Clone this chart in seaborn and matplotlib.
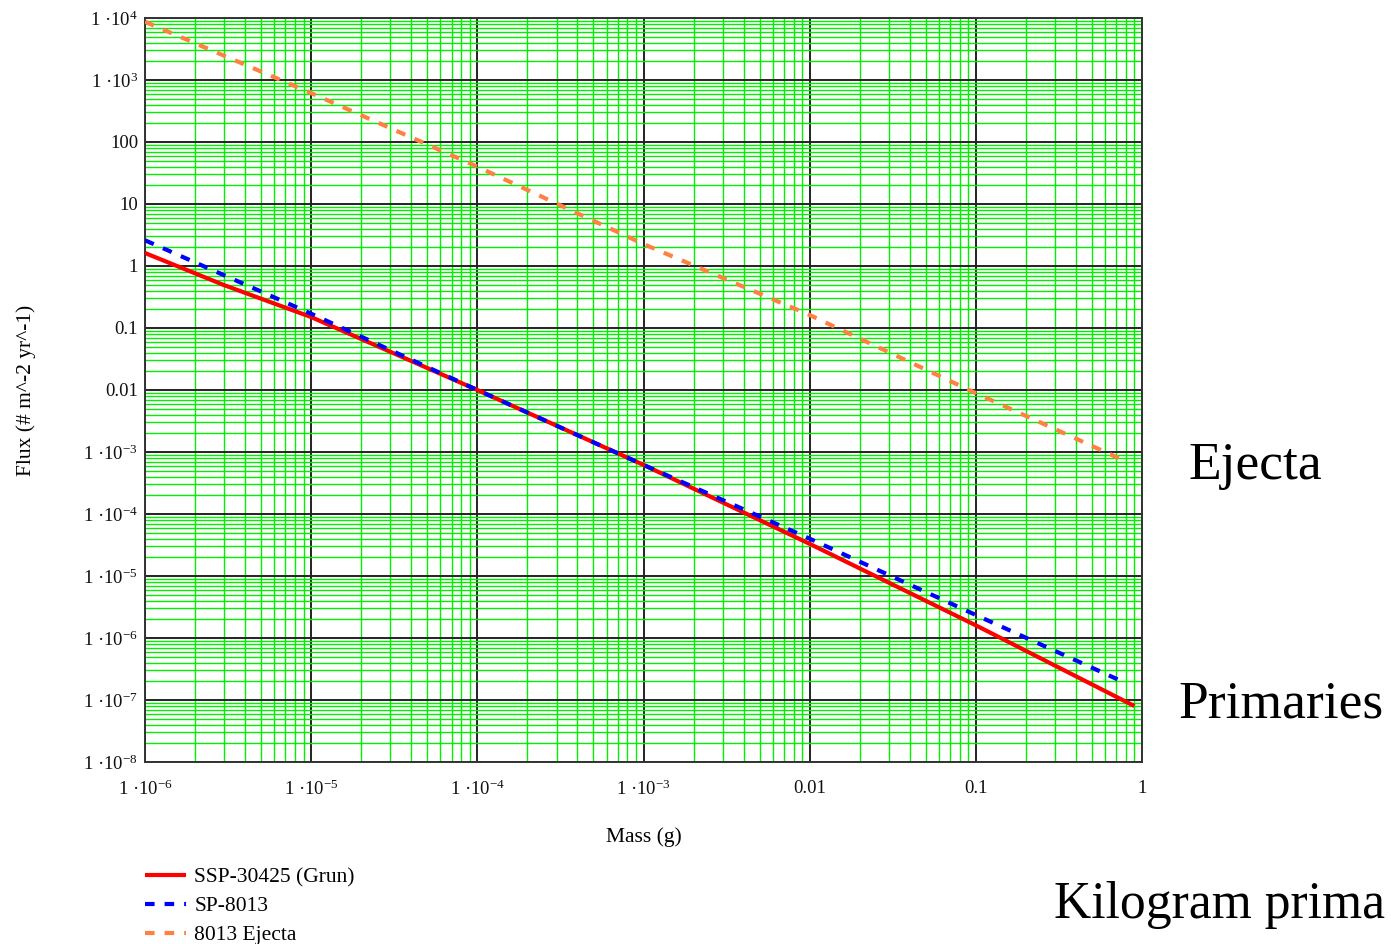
import numpy as np
import pandas as pd
import matplotlib
matplotlib.use("Agg")
import matplotlib.pyplot as plt
from matplotlib.ticker import LogLocator, FixedLocator, FixedFormatter, NullFormatter
import seaborn as sns

# Flux vs. particle mass (log-log)
mass_grun = [1e-6, 3e-6, 1e-5, 1e-4, 1e-3, 1e-2, 1e-1, 0.9]
flux_grun = [1.62, 0.49, 0.15, 0.010, 6.2e-4, 3.3e-5, 1.6e-6, 8.0e-8]

mass_sp8013 = [1e-6, 1e-5, 1e-4, 1e-3, 1e-2, 1e-1, 0.79]
flux_sp8013 = [2.6, 0.17, 0.010, 6.2e-4, 4.0e-5, 2.35e-6, 1.9e-7]

mass_ejecta = [1e-6, 1e-5, 1e-4, 1e-3, 1e-2, 1e-1, 0.77]
flux_ejecta = [8700, 615, 40, 2.26, 0.162, 0.0089, 7.4e-4]

series_names = ["SSP-30425 (Grun)", "SP-8013", "8013 Ejecta"]

x_ticks = [1e-6, 1e-5, 1e-4, 1e-3, 1e-2, 1e-1, 1]
x_tick_labels = [r"1 ·10$^{-6}$", r"1 ·10$^{-5}$", r"1 ·10$^{-4}$", r"1 ·10$^{-3}$",
                 "0.01", "0.1", "1"]
y_ticks = [1e4, 1e3, 100, 10, 1, 0.1, 0.01, 1e-3, 1e-4, 1e-5, 1e-6, 1e-7, 1e-8]
y_tick_labels = [r"1 ·10$^{4}$", r"1 ·10$^{3}$", "100", "10", "1", "0.1", "0.01",
                 r"1 ·10$^{-3}$", r"1 ·10$^{-4}$", r"1 ·10$^{-5}$", r"1 ·10$^{-6}$",
                 r"1 ·10$^{-7}$", r"1 ·10$^{-8}$"]

sns.set_style("white")
plt.rcParams["font.family"] = ["Liberation Serif", "DejaVu Serif"]
plt.rcParams["mathtext.fontset"] = "custom"
plt.rcParams["mathtext.rm"] = "Liberation Serif"
plt.rcParams["mathtext.it"] = "Liberation Serif:italic"
plt.rcParams["mathtext.bf"] = "Liberation Serif:bold"
plt.rcParams["text.color"] = "black"
plt.rcParams["axes.labelcolor"] = "black"

fig = plt.figure(figsize=(13.91, 9.44), dpi=100)
ax = fig.add_axes([145 / 1391, 1 - 762 / 944, (1142 - 145) / 1391, (762 - 18) / 944])

df_grun = pd.DataFrame({"mass": mass_grun, "flux": flux_grun})
df_sp = pd.DataFrame({"mass": mass_sp8013, "flux": flux_sp8013})
df_ej = pd.DataFrame({"mass": mass_ejecta, "flux": flux_ejecta})

sns.lineplot(data=df_grun, x="mass", y="flux", ax=ax, color="#ff0000", lw=3.0,
             label=series_names[0], zorder=5)
sns.lineplot(data=df_sp, x="mass", y="flux", ax=ax, color="#0000ff", lw=3.0,
             label=series_names[1], zorder=6)
sns.lineplot(data=df_ej, x="mass", y="flux", ax=ax, color="#ff8040", lw=3.0,
             label=series_names[2], zorder=6)

lines = ax.get_lines()
for ln in lines[1:3]:
    ln.set_dashes([2.3, 2.4])
    ln.set_dash_capstyle("butt")
lines[0].set_solid_capstyle("butt")

ax.set_xscale("log")
ax.set_yscale("log")
ax.set_xlim(1e-6, 1)
ax.set_ylim(1e-8, 1e4)

ax.xaxis.set_major_locator(FixedLocator(x_ticks))
ax.xaxis.set_major_formatter(FixedFormatter(x_tick_labels))
ax.yaxis.set_major_locator(FixedLocator(y_ticks))
ax.yaxis.set_major_formatter(FixedFormatter(y_tick_labels))
ax.xaxis.set_minor_locator(LogLocator(base=10, subs=np.arange(2, 10), numticks=50))
ax.yaxis.set_minor_locator(LogLocator(base=10, subs=np.arange(2, 10), numticks=50))
ax.xaxis.set_minor_formatter(NullFormatter())
ax.yaxis.set_minor_formatter(NullFormatter())

ax.grid(which="minor", color="#00f000", lw=1.0, zorder=1)
ax.grid(which="major", color="#222222", lw=1.4, zorder=2)
ax.set_axisbelow(True)
ax.tick_params(which="both", length=0, labelsize=13.5, colors="#111111")
ax.tick_params(axis="x", pad=13)
ax.tick_params(axis="y", pad=5)
for sp in ax.spines.values():
    sp.set_color("#333333")
    sp.set_linewidth(1.4)

ax.set_xlabel("Mass (g)", fontsize=15.5, labelpad=20)
ax.set_ylabel("Flux (# m^-2 yr^-1)", fontsize=15.5, labelpad=34)

ax.get_legend().remove()
handles, labels = ax.get_legend_handles_labels()
fig.legend(handles, labels, loc="upper left", bbox_to_anchor=(136 / 1391, 1 - 859 / 944),
           frameon=False, fontsize=15.5, handlelength=1.9, handletextpad=0.4,
           labelspacing=0.4, borderaxespad=0)

fig.text(1188 / 1391, 1 - 466 / 944, "Ejecta", fontsize=38.5, va="center", ha="left")
fig.text(1178 / 1391, 1 - 705 / 944, "Primaries", fontsize=38.5, va="center", ha="left")
fig.text(1054 / 1391, 1 - 905 / 944, "Kilogram prima", fontsize=37.2, va="center", ha="left")

fig.savefig("out.png", dpi=100)
